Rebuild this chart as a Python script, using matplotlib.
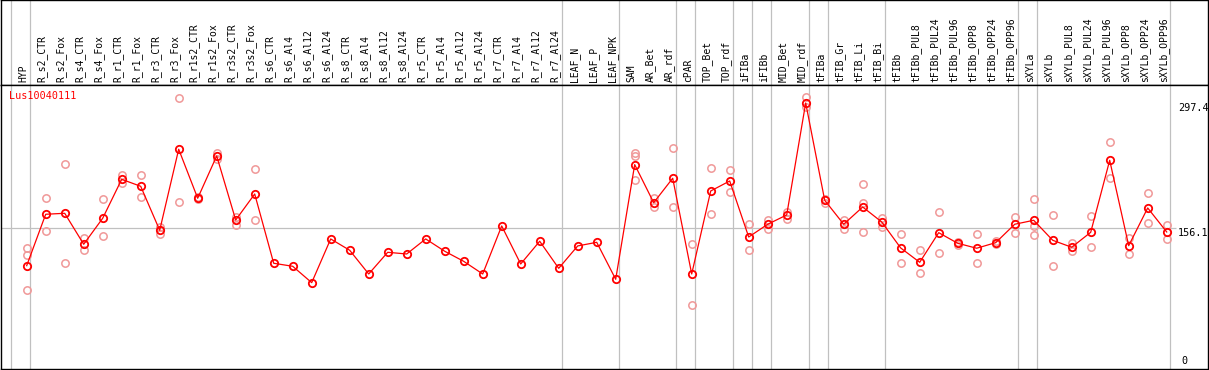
import matplotlib
matplotlib.use("Agg")
import matplotlib.pyplot as plt
import numpy as np

# -------------------------------
# Data
# -------------------------------
samples = [
    "HYP", "R_s2_CTR", "R_s2_Fox", "R_s4_CTR", "R_s4_Fox", "R_r1_CTR", "R_r1_Fox",
    "R_r3_CTR", "R_r3_Fox", "R_r1s2_CTR", "R_r1s2_Fox", "R_r3s2_CTR", "R_r3s2_Fox",
    "R_s6_CTR", "R_s6_Al4", "R_s6_Al12", "R_s6_Al24", "R_s8_CTR", "R_s8_Al4",
    "R_s8_Al12", "R_s8_Al24", "R_r5_CTR", "R_r5_Al4", "R_r5_Al12", "R_r5_Al24",
    "R_r7_CTR", "R_r7_Al4", "R_r7_Al12", "R_r7_Al24", "LEAF_N", "LEAF_P", "LEAF_NPK",
    "SAM", "AR_Bet", "AR_rdf", "cPAR", "TOP_Bet", "TOP_rdf", "iFIBa", "iFIBb",
    "MID_Bet", "MID_rdf", "tFIBa", "tFIB_Gr", "tFIB_Li", "tFIB_Bi", "tFIBb",
    "tFIBb_PUL8", "tFIBb_PUL24", "tFIBb_PUL96", "tFIBb_OPP8", "tFIBb_OPP24",
    "tFIBb_OPP96", "sXYLa", "sXYLb", "sXYLb_PUL8", "sXYLb_PUL24", "sXYLb_PUL96",
    "sXYLb_OPP8", "sXYLb_OPP24", "sXYLb_OPP96",
]

# number of samples in each block separated by grey lines
group_sizes = [1, 28, 3, 3, 1, 2, 1, 1, 2, 1, 3, 7, 1, 7]

means = [
    113.5, 171.6, 172.7, 137.7, 167.1, 211.1, 203.2, 153.5, 245.1, 189.7,
    237.5, 165.1, 194.5, 116.2, 112.8, 94.3, 143.7, 130.9, 104.1, 128.6,
    126.7, 143.7, 129.8, 118.4, 104.1, 158.4, 115.4, 141.1, 110.5, 135.8,
    139.9, 98.1, 227.7, 184.7, 212.3, 104.1, 197.9, 209.2, 145.9, 160.3,
    170.8, 297.4, 187.4, 160.3, 179.8, 162.9, 133.5, 117.3, 150.8, 138.8,
    133.2, 139.5, 160.3, 164.8, 142.2, 134.3, 151.2, 232.6, 136.1, 178.7,
    151.6,
]

replicates = [
    [133.8, 125.6, 86.0], [190.0, 152.4], [228.4, 116.5], [145.1, 130.9],
    [188.9, 147.1], [215.7, 206.6], [215.7, 190.8], [157.6, 149.0],
    [302.7, 185.8], [190.9, 188.4], [240.5, 234.1], [168.9, 159.5],
    [222.5, 164.8], [], [], [], [], [], [], [], [], [], [], [], [], [], [],
    [], [], [], [], [],
    [240.5, 237.8, 210.4], [189.7, 180.2], [246.2, 179.5], [138.0, 69.1],
    [223.6, 171.6], [221.7, 196.4], [160.3, 130.9], [165.1, 155.0],
    [174.5, 166.3], [303.8, 293.2], [188.9, 184.7], [165.1, 154.6],
    [205.5, 184.0, 151.2], [167.1, 157.6], [149.3, 116.5], [130.9, 105.2],
    [174.2, 127.5], [140.5, 137.2], [149.0, 116.5], [141.2, 137.8],
    [168.5, 150.8], [188.5, 158.4, 147.8], [170.5, 113.1], [139.5, 130.1],
    [169.7, 134.3], [253.0, 212.3], [144.8, 127.1], [195.7, 162.1],
    [159.2, 144.0],
]

gene = "Lus10040111"
y_max = 297.4
y_mid = 156.1


def main():
    W, H = 1209, 370
    fig = plt.figure(figsize=(W / 100, H / 100), dpi=100)

    mono = "DejaVu Sans Mono"
    red = "#ff0000"
    pink = "#f09898"
    grey = "#c0c0c0"

    x = np.arange(len(samples))
    xlim = ((1 - 26.7) / 19.0, (1208 - 26.7) / 19.0)

    # -------------------------------
    # Header with sample names
    # -------------------------------
    head = fig.add_axes([1 / W, 285 / H, 1207 / W, 85 / H])
    ax = fig.add_axes([1 / W, 1 / H, 1207 / W, 284 / H])

    ends = np.cumsum(group_sizes) - 1
    sep = np.concatenate([[-1], ends]) + 0.19
    for a in (head, ax):
        a.set_xlim(*xlim)
        for s in sep:
            a.axvline(s, color=grey, lw=0.9, zorder=0)
        a.set_xticks([])
        a.set_yticks([])
        for sp in a.spines.values():
            sp.set_color("black")
            sp.set_linewidth(1.0)

    head.set_ylim(0, 1)
    for i, name in enumerate(samples):
        head.text(i - 0.18, 2.5 / 85, name, rotation=90, ha="center",
                  va="bottom", fontsize=7, family=mono)

    # -------------------------------
    # Expression profile
    # -------------------------------
    ax.set_ylim(-3.3, 317.7)
    ax.hlines(y_mid, xlim[0], (1176 - 26.7) / 19.0, color=grey, lw=0.9,
              zorder=0)

    rx = [i for i, r in enumerate(replicates) for _ in r]
    ry = [v for r in replicates for v in r]
    ax.plot(rx, ry, "o", ls="none", ms=5.3, mfc="none", mec=pink, mew=1.1,
            zorder=2)
    ax.plot(x, means, "-", color=red, lw=0.9, marker="o", ms=5.3, mfc="none",
            mec=red, mew=1.3, zorder=3)

    ax.text(8.3 / 1207, 1 - 11 / 284, gene, color=red, transform=ax.transAxes,
            ha="left", va="center", fontsize=7.3, family=mono)

    yt = ax.get_yaxis_transform()
    lx = (1178 - 1) / 1207
    ax.text(lx, y_max, f"{y_max}", transform=yt, ha="left", va="top",
            fontsize=7.3, family=mono)
    ax.text(lx, y_mid, f"{y_mid}", transform=yt, ha="left", va="top",
            fontsize=7.3, family=mono)
    ax.text(lx + 3 / 1207, 0, "0", transform=yt, ha="left", va="bottom",
            fontsize=7.3, family=mono)

    fig.savefig("out.png", dpi=100)


if __name__ == "__main__":
    main()
